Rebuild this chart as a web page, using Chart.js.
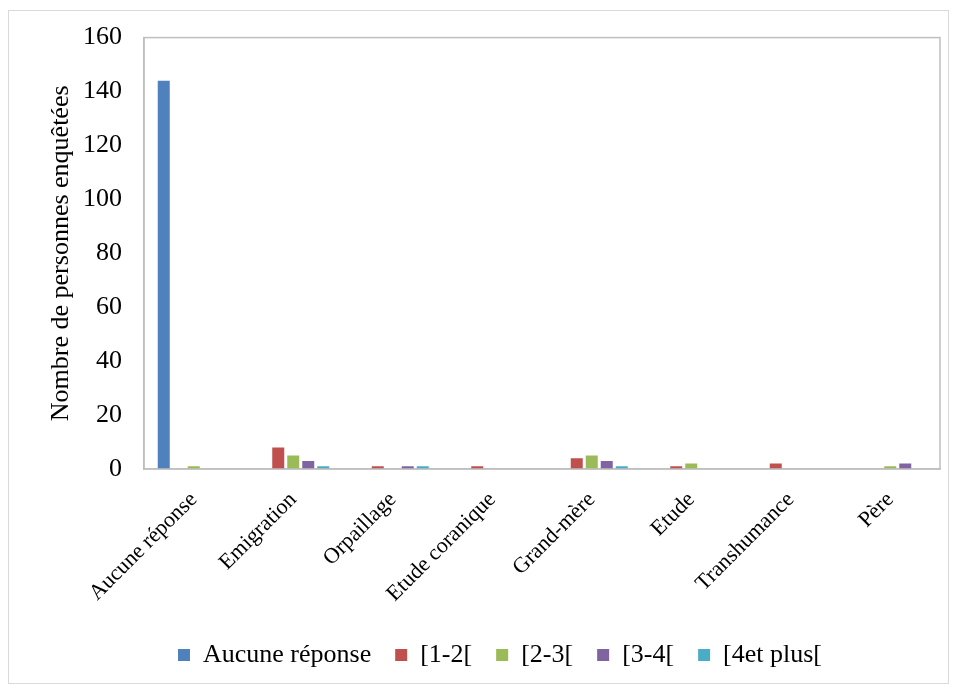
<!DOCTYPE html>
<html>
<head>
<meta charset="utf-8">
<script src="https://cdn.jsdelivr.net/npm/chart.js@4"></script>
<style>
  html, body { margin: 0; padding: 0; background: #fff; }
  #wrap { position: relative; width: 955px; height: 686px; }
  #frame { position: absolute; left: 8px; top: 10px; width: 939px; height: 672px; border: 1px solid #d9d9d9; pointer-events: none; }
  canvas { position: absolute; left: 0; top: 0; }
</style>
</head>
<body>
<div id="wrap">
  <canvas id="chart" width="955" height="686"></canvas>
  <div id="frame"></div>
</div>
<script>
// Data
const categories = ['Aucune réponse', 'Emigration', 'Orpaillage', 'Etude coranique', 'Grand-mère', 'Etude', 'Transhumance', 'Père'];
const seriesNames = ['Aucune réponse', '[1-2[', '[2-3[', '[3-4[', '[4et plus['];
const aucuneReponse = [144, 0, 0, 0, 0, 0, 0, 0];
const ans1to2 = [0, 8, 1, 1, 4, 1, 2, 0];
const ans2to3 = [1, 5, 0, 0, 5, 2, 0, 1];
const ans3to4 = [0, 3, 1, 0, 3, 0, 0, 2];
const ans4plus = [0, 1, 1, 0, 1, 0, 0, 0];
const yTicks = [0, 20, 40, 60, 80, 100, 120, 140, 160];

const colors = ['#4F81BD', '#C0504D', '#9BBB59', '#8064A2', '#4BACC6'];
const values = [aucuneReponse, ans1to2, ans2to3, ans3to4, ans4plus];

const serif = '"Liberation Serif", "Times New Roman", serif';

// border around the plot area, legend nudged right like the original
const plotBorder = {
  id: 'plotBorder',
  afterLayout(chart) {
    chart.legend.left += 30;
    chart.legend.right += 30;
  },
  afterDatasetsDraw(chart) {
    const a = chart.chartArea;
    const ctx = chart.ctx;
    ctx.save();
    ctx.strokeStyle = '#bfbfbf';
    ctx.lineWidth = 1.5;
    ctx.strokeRect(a.left, a.top, a.right - a.left, a.bottom - a.top);
    ctx.restore();
  }
};

const ctx = document.getElementById('chart').getContext('2d');
new Chart(ctx, {
  type: 'bar',
  data: {
    labels: categories,
    datasets: seriesNames.map((name, i) => ({
      label: name,
      data: values[i],
      backgroundColor: colors[i],
      borderWidth: 0,
      categoryPercentage: 0.754,
      barPercentage: 0.8
    }))
  },
  options: {
    responsive: false,
    animation: false,
    layout: { padding: { top: 31.4, right: 15, bottom: 8, left: 0 } },
    plugins: {
      tooltip: { enabled: false },
      legend: {
        position: 'bottom',
        labels: {
          color: '#000',
          font: { family: serif, size: 26 },
          boxWidth: 12,
          boxHeight: 12,
          padding: 24
        }
      }
    },
    scales: {
      x: {
        grid: { display: false, drawTicks: false },
        border: { color: '#bfbfbf', width: 1.5 },
        ticks: {
          color: '#000',
          font: { family: serif, size: 22 },
          maxRotation: 45,
          minRotation: 45,
          autoSkip: false,
          padding: 18
        },
        afterFit(scale) { scale.height = 149; }
      },
      y: {
        min: 0,
        max: 160,
        afterBuildTicks(scale) { scale.ticks = yTicks.map(v => ({ value: v })); },
        grid: { display: false, drawTicks: false },
        border: { color: '#bfbfbf', width: 1.5 },
        ticks: {
          color: '#000',
          font: { family: serif, size: 26 },
          padding: 22
        },
        title: {
          display: true,
          text: 'Nombre de personnes enquêtées',
          color: '#000',
          font: { family: serif, size: 26 },
          padding: { top: 46, bottom: 0 }
        },
        afterFit(scale) { scale.width = 144; }
      }
    }
  },
  plugins: [plotBorder]
});
</script>
</body>
</html>
